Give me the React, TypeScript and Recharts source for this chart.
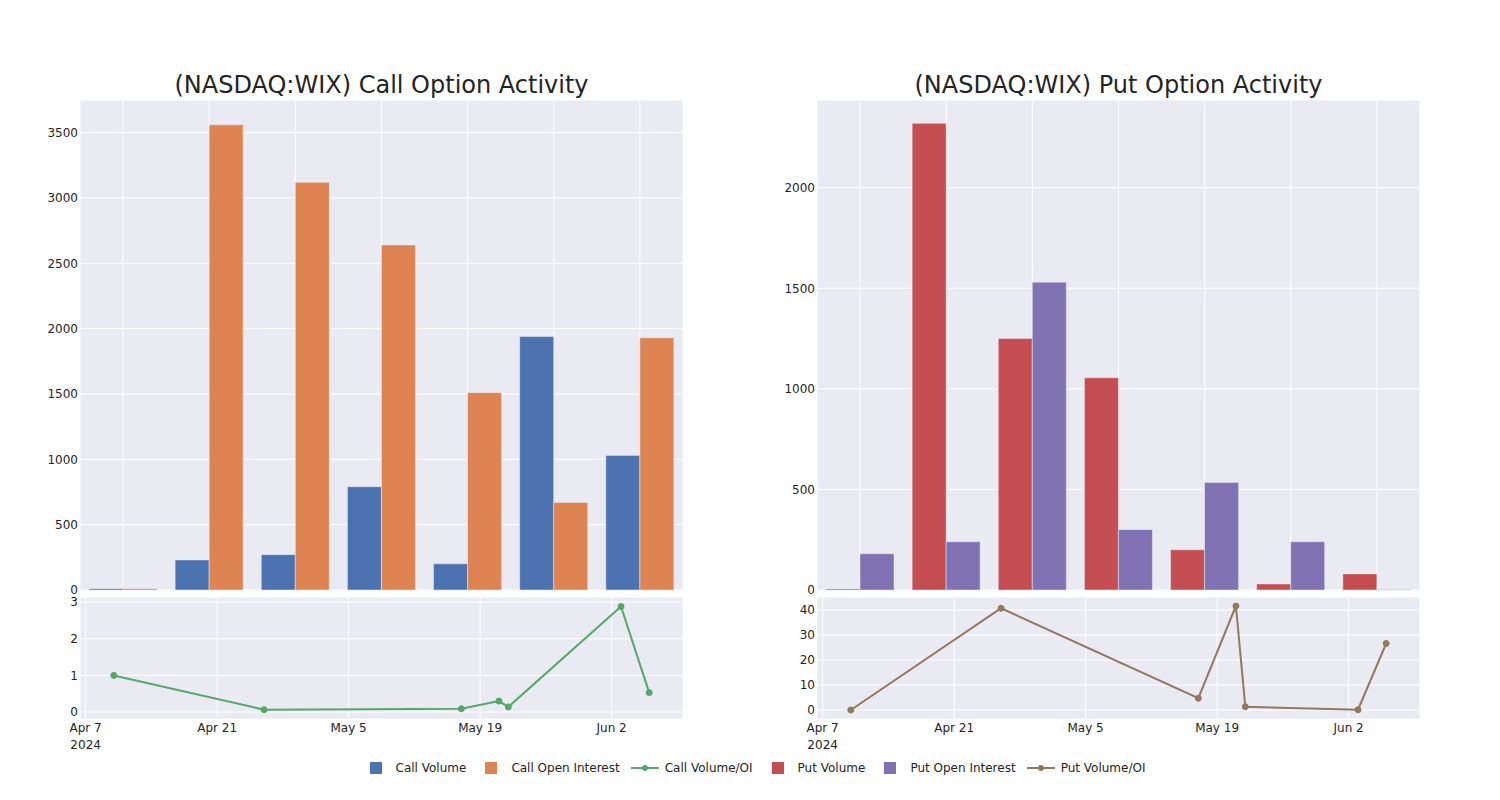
import React from "react";
import { Bar, BarChart, CartesianGrid, Line, LineChart, XAxis, YAxis } from "recharts";

// one entry per reporting date (bars and ratio lines share them)
const dates = ["2024-04-10", "2024-04-26", "2024-05-17", "2024-05-21", "2024-05-22", "2024-06-03", "2024-06-06"];

const callVolume = [10, 230, 270, 790, 200, 1940, 1030];
const callOpenInterest = [10, 3560, 3120, 2640, 1510, 670, 1930];
const callRatio = [1.0, 0.064, 0.09, 0.3, 0.14, 2.88, 0.53];

const putVolume = [5, 2320, 1250, 1055, 200, 30, 80];
const putOpenInterest = [180, 240, 1530, 300, 535, 240, 2];
const putRatio = [0, 40.7, 4.7, 41.6, 1.3, 0.1, 26.6];

const dateTicks = ["2024-04-07", "2024-04-21", "2024-05-05", "2024-05-19", "2024-06-02"];
const callBarTicks = [0, 500, 1000, 1500, 2000, 2500, 3000, 3500];
const putBarTicks = [0, 500, 1000, 1500, 2000];
const callRatioTicks = [0, 1, 2, 3];
const putRatioTicks = [0, 10, 20, 30, 40];

const MONTHS = ["Jan", "Feb", "Mar", "Apr", "May", "Jun", "Jul", "Aug", "Sep", "Oct", "Nov", "Dec"];
const DAY = 86400000;

const colors = {
  callVolume: "#4C72B0",
  callOI: "#DD8452",
  callRatio: "#55A868",
  putVolume: "#C44E52",
  putOI: "#8172B3",
  putRatio: "#937860",
};

const BG = "#EAEAF2";
const TEXT = "#242424";
const tickStyle = { fontSize: 12, fill: TEXT };

const toTime = (s: string) => Date.parse(s);
const tickTimes = dateTicks.map(toTime);
const times = dates.map(toTime);
const timeDomain = [Math.min(...times) - 3.6 * DAY, Math.max(...times) + 3.6 * DAY];

const callBars = dates.map((d, i) => ({ d, vol: callVolume[i], oi: callOpenInterest[i] }));
const putBars = dates.map((d, i) => ({ d, vol: putVolume[i], oi: putOpenInterest[i] }));
const callLine = dates.map((d, i) => ({ t: toTime(d), r: callRatio[i] }));
const putLine = dates.map((d, i) => ({ t: toTime(d), r: putRatio[i] }));

const NoTick = () => null;

function DateTick({ x, y, payload }: any) {
  const d = new Date(payload.value);
  const label = `${MONTHS[d.getUTCMonth()]} ${d.getUTCDate()}`;
  const first = payload.value === tickTimes[0];
  return (
    <text x={x} y={y} textAnchor="middle" fill={TEXT} fontSize={12}>
      <tspan x={x} dy={13}>{label}</tspan>
      {first && <tspan x={x} dy={17}>2024</tspan>}
    </text>
  );
}

function BarPanel({ data, ticks, domain, volColor, oiColor, volName, oiName }: any) {
  return (
    <BarChart
      width={688}
      height={511}
      data={data}
      margin={{ top: 10, right: 5, left: 20, bottom: 10 }}
      barCategoryGap={9}
      barGap={0}
    >
      <CartesianGrid fill={BG} stroke="#ffffff" strokeWidth={1} />
      <XAxis dataKey="d" height={0} tick={<NoTick />} tickLine={false} axisLine={false} interval={0} />
      <YAxis
        width={60}
        domain={domain}
        ticks={ticks}
        tick={tickStyle}
        tickSize={0}
        tickMargin={2}
        axisLine={false}
        tickLine={false}
        allowDataOverflow
      />
      <Bar dataKey="vol" name={volName} fill={volColor} stroke={BG} strokeWidth={0.5} isAnimationActive={false} />
      <Bar dataKey="oi" name={oiName} fill={oiColor} stroke={BG} strokeWidth={0.5} isAnimationActive={false} />
    </BarChart>
  );
}

function RatioPanel({ data, ticks, domain, color, name }: any) {
  return (
    <LineChart width={688} height={172} data={data} margin={{ top: 10, right: 5, left: 20, bottom: 0 }}>
      <CartesianGrid fill={BG} stroke="#ffffff" strokeWidth={1} />
      <XAxis
        dataKey="t"
        type="number"
        scale="time"
        domain={timeDomain}
        ticks={tickTimes}
        tick={<DateTick />}
        height={40}
        tickSize={0}
        tickMargin={0}
        axisLine={false}
        tickLine={false}
        allowDataOverflow
      />
      <YAxis
        width={60}
        domain={domain}
        ticks={ticks}
        tick={tickStyle}
        tickSize={0}
        tickMargin={2}
        axisLine={false}
        tickLine={false}
        allowDataOverflow
      />
      <Line
        dataKey="r"
        name={name}
        stroke={color}
        strokeWidth={2}
        dot={{ r: 3, fill: color, stroke: color, strokeWidth: 1 }}
        isAnimationActive={false}
      />
    </LineChart>
  );
}

const legendItems = [
  { label: "Call Volume", color: colors.callVolume, kind: "bar" },
  { label: "Call Open Interest", color: colors.callOI, kind: "bar" },
  { label: "Call Volume/OI", color: colors.callRatio, kind: "line" },
  { label: "Put Volume", color: colors.putVolume, kind: "bar" },
  { label: "Put Open Interest", color: colors.putOI, kind: "bar" },
  { label: "Put Volume/OI", color: colors.putRatio, kind: "line" },
];

function Legend() {
  return (
    <div
      style={{
        position: "absolute",
        left: 3,
        top: 759,
        width: 1500,
        height: 18,
        display: "flex",
        justifyContent: "center",
        alignItems: "center",
        gap: 10,
        fontSize: 12,
        color: TEXT,
      }}
    >
      {legendItems.map((it) => (
        <div key={it.label} style={{ display: "flex", alignItems: "center" }}>
          <svg width={30} height={16}>
            {it.kind === "bar" ? (
              <rect x={9} y={2} width={12} height={12} fill={it.color} />
            ) : (
              <g>
                <line x1={1} y1={8} x2={29} y2={8} stroke={it.color} strokeWidth={2} />
                <circle cx={15} cy={8} r={3} fill={it.color} />
              </g>
            )}
          </svg>
          <span style={{ marginLeft: 5 }}>{it.label}</span>
        </div>
      ))}
    </div>
  );
}

const titleStyle: React.CSSProperties = {
  position: "absolute",
  top: 71,
  width: 603,
  textAlign: "center",
  fontSize: 24,
  color: TEXT,
  whiteSpace: "nowrap",
};

export default function App() {
  return (
    <div
      style={{
        position: "absolute",
        left: 0,
        top: 0,
        width: 1500,
        height: 800,
        background: "#ffffff",
        fontFamily: "'DejaVu Sans', sans-serif",
      }}
    >
      <div style={{ ...titleStyle, left: 80 }}>(NASDAQ:WIX) Call Option Activity</div>
      <div style={{ ...titleStyle, left: 817 }}>(NASDAQ:WIX) Put Option Activity</div>

      <div style={{ position: "absolute", left: 0, top: 90 }}>
        <BarPanel
          data={callBars}
          ticks={callBarTicks}
          domain={[-8, 3750]}
          volColor={colors.callVolume}
          oiColor={colors.callOI}
          volName="Call Volume"
          oiName="Call Open Interest"
        />
      </div>
      <div style={{ position: "absolute", left: 0, top: 587 }}>
        <RatioPanel data={callLine} ticks={callRatioTicks} domain={[-0.19, 3.14]} color={colors.callRatio} name="Call Volume/OI" />
      </div>

      <div style={{ position: "absolute", left: 737, top: 90 }}>
        <BarPanel
          data={putBars}
          ticks={putBarTicks}
          domain={[-5, 2436]}
          volColor={colors.putVolume}
          oiColor={colors.putOI}
          volName="Put Volume"
          oiName="Put Open Interest"
        />
      </div>
      <div style={{ position: "absolute", left: 737, top: 587 }}>
        <RatioPanel data={putLine} ticks={putRatioTicks} domain={[-3.6, 45.2]} color={colors.putRatio} name="Put Volume/OI" />
      </div>

      <Legend />
    </div>
  );
}
